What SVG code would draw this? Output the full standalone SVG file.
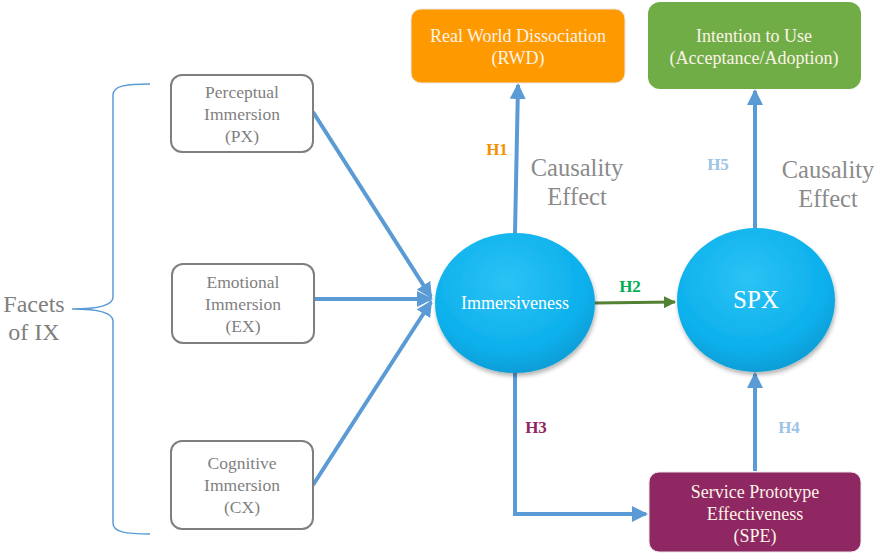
<svg xmlns="http://www.w3.org/2000/svg" width="875" height="553" viewBox="0 0 875 553" font-family="'Liberation Serif', 'DejaVu Serif', serif">
<defs>
<style>
text{font-family:'Liberation Serif','DejaVu Serif',serif;text-anchor:middle}
.gbox{fill:#fff;stroke:#7f7f7f;stroke-width:2}
.gt{fill:#7f7f7f;font-size:17.5px}
.wt{fill:#fdf3e7;font-size:18px}
.lbl{font-weight:bold;font-size:17px}
.ce{fill:#8a8a8a;font-size:24.5px}
.blue{fill:none;stroke:#5b9bd5;stroke-width:4}
</style>
<radialGradient id="eg" cx="0.45" cy="0.35" r="0.7">
<stop offset="0" stop-color="#2cc3f5"/>
<stop offset="0.7" stop-color="#0cb0ec"/>
<stop offset="1" stop-color="#0798d0"/>
</radialGradient>
<marker id="ab" markerUnits="userSpaceOnUse" markerWidth="18" markerHeight="18" refX="14" refY="8" orient="auto">
<path d="M0,0 L16,8 L0,16 Z" fill="#5b9bd5"/>
</marker>
<marker id="ag" markerUnits="userSpaceOnUse" markerWidth="14" markerHeight="14" refX="11" refY="6" orient="auto">
<path d="M0,0 L12,6 L0,12 Z" fill="#548235"/>
</marker>
<filter id="sh" x="-10%" y="-10%" width="120%" height="125%">
<feDropShadow dx="1" dy="3" stdDeviation="2" flood-color="#000" flood-opacity="0.3"/>
</filter>
</defs>

<g id="connectors">
<path class="blue" d="M313,112 L431,297" marker-end="url(#ab)"/>
<path class="blue" d="M314,299 L431,299" marker-end="url(#ab)"/>
<path class="blue" d="M313,485 L431,302" marker-end="url(#ab)"/>
<path class="blue" d="M515,233 L518,85" marker-end="url(#ab)"/>
<path class="blue" d="M755,228 L755,91" marker-end="url(#ab)"/>
<path class="blue" d="M755,471 L755,374" marker-end="url(#ab)"/>
<path class="blue" d="M515,373 L515,514 L646,514" marker-end="url(#ab)"/>
<path d="M595,303 L675,302" stroke="#548235" stroke-width="3" fill="none" marker-end="url(#ag)"/>
<path d="M150,84 C125,84 113,86 113,95 L113,297 C113,305 100,309 72,309 C100,309 113,313 113,321 L113,523 C113,532 125,534 150,534" fill="none" stroke="#5b9bd5" stroke-width="1.5"/>
</g>

<g id="labels">
<text class="lbl" x="497" y="155" fill="#f39200">H1</text>
<text class="lbl" x="630" y="292" fill="#00b050">H2</text>
<text class="lbl" x="536" y="433" fill="#8e2764">H3</text>
<text class="lbl" x="789" y="433" fill="#9dc3e6">H4</text>
<text class="lbl" x="718" y="170" fill="#9dc3e6">H5</text>
<text class="ce" x="577" y="176">Causality</text>
<text class="ce" x="577" y="205">Effect</text>
<text class="ce" x="828" y="178">Causality</text>
<text class="ce" x="828" y="207">Effect</text>
<text x="34" y="312" fill="#7f7f7f" font-size="24">Facets</text>
<text x="34" y="340" fill="#7f7f7f" font-size="24">of IX</text>
</g>

<g id="px">
<rect class="gbox" x="171" y="75" width="142" height="77" rx="11"/>
<text class="gt" x="242" y="98">Perceptual</text>
<text class="gt" x="242" y="120">Immersion</text>
<text class="gt" x="242" y="142">(PX)</text>
</g>
<g id="ex">
<rect class="gbox" x="172" y="264" width="142" height="79" rx="11"/>
<text class="gt" x="243" y="288">Emotional</text>
<text class="gt" x="243" y="310">Immersion</text>
<text class="gt" x="243" y="332">(EX)</text>
</g>
<g id="cx">
<rect class="gbox" x="171" y="441" width="142" height="88" rx="11"/>
<text class="gt" x="242" y="469">Cognitive</text>
<text class="gt" x="242" y="491">Immersion</text>
<text class="gt" x="242" y="513">(CX)</text>
</g>

<g id="rwd">
<rect x="411" y="9" width="214" height="74" rx="10" fill="#ff9900" stroke="#e8e8e8" stroke-width="1"/>
<text class="wt" x="518" y="42">Real World Dissociation</text>
<text class="wt" x="518" y="64">(RWD)</text>
</g>
<g id="itu">
<rect x="648" y="2" width="213" height="87" rx="12" fill="#70ad47"/>
<text class="wt" x="754" y="42">Intention to Use</text>
<text class="wt" x="754" y="64">(Acceptance/Adoption)</text>
</g>
<g id="imm">
<ellipse cx="515" cy="303" rx="80" ry="70" fill="url(#eg)" filter="url(#sh)"/>
<text x="515" y="309" fill="#fff" font-size="18">Immersiveness</text>
</g>
<g id="spx">
<ellipse cx="756" cy="300" rx="79" ry="72" fill="url(#eg)" filter="url(#sh)"/>
<text x="756" y="308" fill="#fff" font-size="25">SPX</text>
</g>
<g id="spe">
<rect x="649" y="472" width="212" height="80" rx="10" fill="#8e2762" stroke="#e8e8e8" stroke-width="1"/>
<text class="wt" x="755" y="498">Service Prototype</text>
<text class="wt" x="755" y="520">Effectiveness</text>
<text class="wt" x="755" y="542">(SPE)</text>
</g>
</svg>
